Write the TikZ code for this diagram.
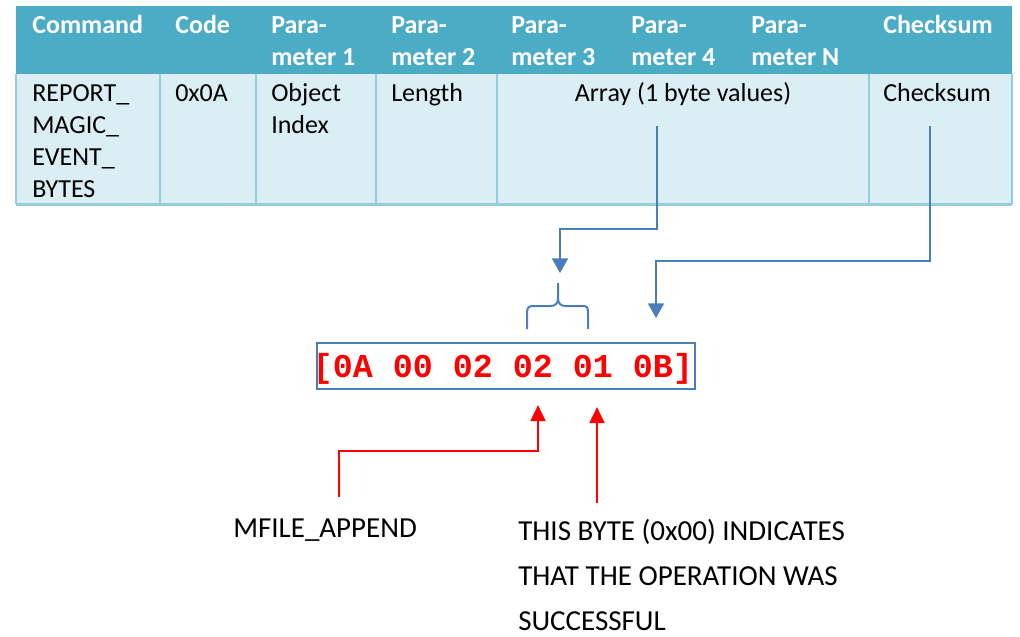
\documentclass[tikz,border=0pt]{standalone}
\usepackage{fontspec}
\setmainfont{Carlito}
\setmonofont{Liberation Mono}
\usetikzlibrary{arrows.meta}
\definecolor{hdrfill}{HTML}{4BACC6}
\definecolor{bodyfill}{HTML}{DAEEF3}
\definecolor{gridline}{HTML}{92CDDC}
\definecolor{linkblue}{HTML}{4A7EBB}
\begin{document}
\begin{tikzpicture}[x=0.75pt,y=-0.75pt,
  hd/.style={anchor=base west, inner sep=0, text=white, align=left,
    font=\fontsize{19.5}{24}\selectfont\bfseries},
  bd/.style={anchor=base west, inner sep=0, align=left,
    font=\fontsize{19.5}{24}\selectfont},
  note/.style={anchor=base west, inner sep=0, align=left,
    font=\fontsize{21.75}{33.75}\selectfont},
  bluelink/.style={draw=linkblue, line width=1.5pt,
    -{Triangle[width=12pt,length=11pt]}},
  redlink/.style={draw=red, line width=2pt,
    -{Triangle[width=11pt,length=12pt]}},
  gridrule/.style={draw=gridline, line width=1.5pt}]
\useasboundingbox (0,0) rectangle (1020,636);

% table backgrounds
\fill[hdrfill] (16,6) rectangle (1012,74);
\fill[bodyfill] (16,74) rectangle (1012,204);
\foreach \x in {160,256,376,497,869}
  \draw[gridrule] (\x,74) -- (\x,204);
\draw[gridline, line width=1pt] (16,74) -- (16,204) (1012,74) -- (1012,204);
\draw[gridline, line width=2.25pt] (16,204) -- (1012,204);

% header row (multi-line nodes sit on the baseline of their last line)
\node[hd] (hcmd) at (32,33) {Command};
\node[hd] (hcode) at (175,33) {Code};
\node[hd] (hp1) at (271,65) {Para-\\meter 1};
\node[hd] (hp2) at (391,65) {Para-\\meter 2};
\node[hd] (hp3) at (511,65) {Para-\\meter 3};
\node[hd] (hp4) at (631,65) {Para-\\meter 4};
\node[hd] (hpn) at (751,65) {Para-\\meter N};
\node[hd] (hck) at (883,33) {Checksum};

% body row
\node[bd] (bcmd) at (32,197) {REPORT\_\\MAGIC\_\\EVENT\_\\BYTES};
\node[bd] (bcode) at (175,101) {0x0A};
\node[bd] (bobj) at (271,133) {Object\\Index};
\node[bd] (blen) at (391,101) {Length};
\node[bd, anchor=base] (barr) at (683,101) {Array (1 byte values)};
\node[bd] (bck) at (883,101) {Checksum};

% byte frame
\node[draw=linkblue, line width=1.5pt, minimum width=283.5pt,
  minimum height=34.5pt, inner sep=0] (frame) at (506,366) {};
\node[anchor=base, inner sep=0, text=red,
  font=\fontsize{25}{30}\selectfont\ttfamily\bfseries] (bytes) at (503,377)
  {[0A 00 02 02 01 0B]};

% brace over the payload bytes
\draw[linkblue, line width=1.5pt]
  (527,329) -- (527,313) .. controls (527,307) and (529,306) .. (534,306)
  -- (550,306) .. controls (555,306) and (558,304) .. (558,298) -- (558,283)
  (558,298) .. controls (558,304) and (561,306) .. (566,306)
  -- (582,306) .. controls (587,306) and (588,307) .. (588,313) -- (588,329);

% connector end points
\coordinate (arrsrc) at (657,126);
\coordinate (bracetip) at (560,273);
\coordinate (cksrc) at (930,126);
\coordinate (cktip) at (656,318);
\coordinate (mfsrc) at (339,497);
\coordinate (mftip) at (538,405);
\coordinate (oksrc) at (597,503);
\coordinate (oktip) at (597,407);

\draw[bluelink] (arrsrc) -- ++(0,103) -| (bracetip);
\draw[bluelink] (cksrc) -- ++(0,135) -| (cktip);
\draw[redlink] (mfsrc) -- ++(0,-46) -| (mftip);
\draw[redlink] (oksrc) -- (oktip);

% annotations
\node[note] (mfile) at (233,537) {MFILE\_APPEND};
\node[note] (okmsg) at (518,630)
  {THIS BYTE (0x00) INDICATES\\THAT THE OPERATION WAS\\SUCCESSFUL};
\end{tikzpicture}
\end{document}
